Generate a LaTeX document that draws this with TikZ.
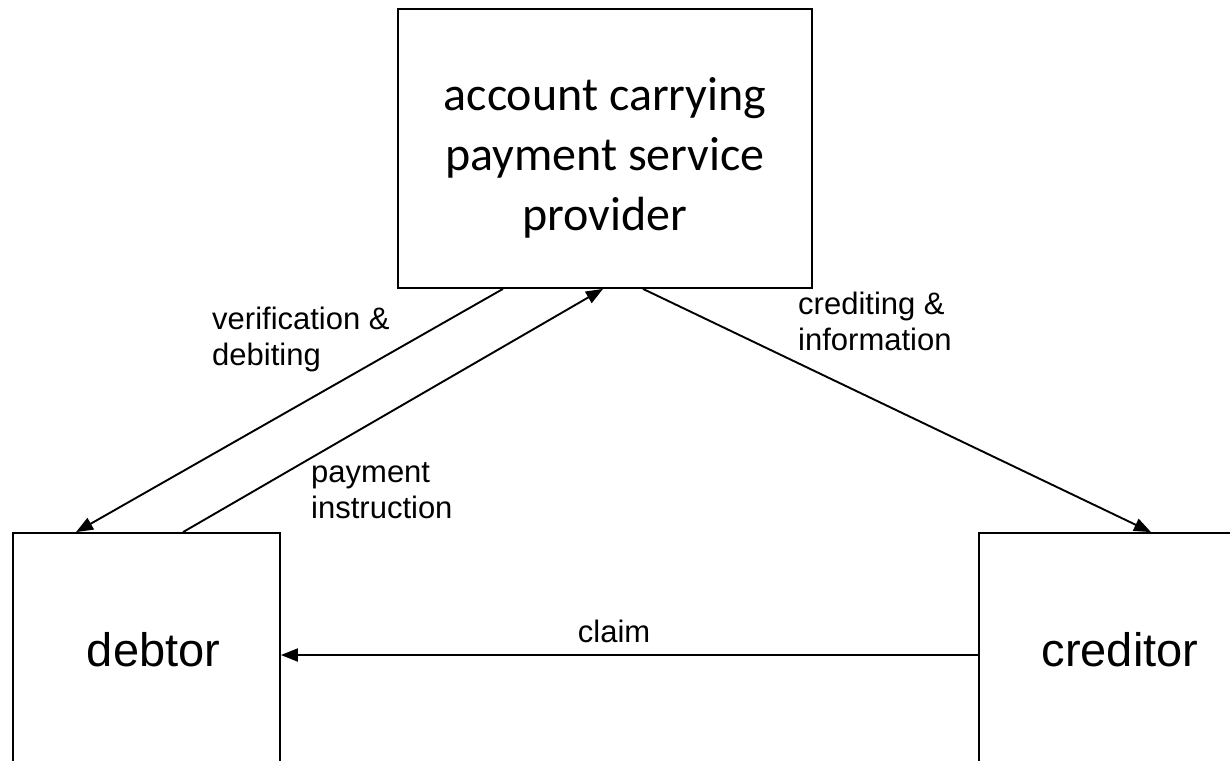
\documentclass[tikz,border=0pt]{standalone}
\usepackage{fontspec}
\setmainfont{Liberation Sans}
\newfontfamily\calibrifont{Carlito}
\usetikzlibrary{arrows.meta}
\begin{document}
\begin{tikzpicture}[x=1pt,y=-1pt,
  box/.style={draw=black, line width=1.8pt, fill=white, inner sep=0pt},
  arr/.style={draw=black, line width=1.9pt, -{Triangle[length=17pt,width=13pt]}},
  lbl/.style={font=\fontsize{31}{36}\selectfont, align=left, inner sep=0pt},
  big/.style={font=\fontsize{47}{56}\selectfont}]
\useasboundingbox (0,0) rectangle (1230,760);
\clip (0,0) rectangle (1230,760);
\fill[white] (0,0) rectangle (1230,760);

% boxes
\node[box, minimum width=414pt, minimum height=279pt,
  label={[name=psptext, yshift=-9pt, align=center, font=\calibrifont\fontsize{48}{60}\selectfont]center:account carrying\\payment service\\provider}]
  (psp) at (605,148.5) {};
\node[box, minimum width=267pt, minimum height=234pt,
  label={[name=debtortext, xshift=7pt, big]center:debtor}]
  (debtor) at (146.5,650) {};
\node[box, minimum width=282pt, minimum height=234pt,
  label={[name=creditortext, big]center:creditor}]
  (creditor) at (1120,650) {};

% connectors
\draw[arr] ([xshift=-102pt]psp.south) -- ([xshift=-70.5pt]debtor.north);
\draw[arr] ([xshift=36.5pt]debtor.north) -- ([xshift=-2pt]psp.south);
\draw[arr] ([xshift=38pt]psp.south) -- ([xshift=31pt]creditor.north);
\draw[arr] ([yshift=-5pt]creditor.west) -- node[pos=0.522, anchor=south, inner sep=0pt, yshift=11pt, font=\fontsize{31}{36}\selectfont] (claimlbl) {claim} ([yshift=-5pt]debtor.east);

% labels
\node[lbl, anchor=north west] (verlbl) at (212,307) {verification \&\\debiting};
\node[lbl, anchor=north west] (paylbl) at (311,462) {payment\\instruction};
\node[lbl, anchor=north west] (credlbl) at (798,292) {crediting \&\\information};
\end{tikzpicture}
\end{document}
